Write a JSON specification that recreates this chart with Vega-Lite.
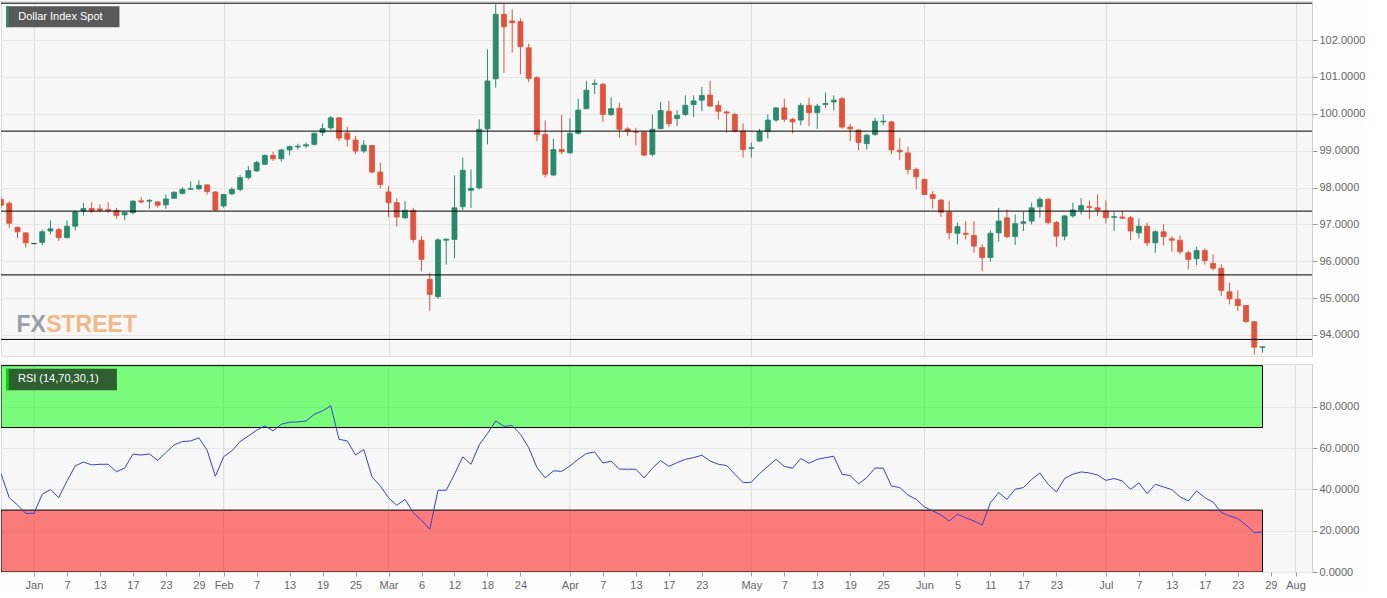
{
  "$schema": "https://vega.github.io/schema/vega-lite/v6.json",
  "background": "#fdfdfd",
  "padding": 0,
  "spacing": 6,
  "config": {
    "view": {"fill": "#f7f7f7", "stroke": "#dcdcdc"},
    "font": "Liberation Sans",
    "axis": {"labelFont": "Liberation Sans", "labelFontSize": 11, "labelColor": "#666666", "tickColor": "#999999", "domainColor": "#cfcfcf", "gridColor": "#e6e6e6", "zindex": 0}
  },
  "datasets": {
    "levels": [{"level": 103.0}, {"level": 99.53}, {"level": 97.36}, {"level": 95.63}, {"level": 93.88}],
    "zones": [{"zone": "overbought", "lo": 70, "hi": 100}, {"zone": "oversold", "lo": 0, "hi": 30}],
    "months": [{"d": "2020-01-01"}, {"d": "2020-02-03"}, {"d": "2020-03-02"}, {"d": "2020-04-01"}, {"d": "2020-05-01"}, {"d": "2020-06-01"}, {"d": "2020-07-01"}, {"d": "2020-08-03"}],
    "dxy": [
      {"d":"2019-12-26","o":97.68,"h":97.75,"l":97.45,"c":97.52,"rsi":47.7},
      {"d":"2019-12-27","o":97.57,"h":97.63,"l":96.91,"c":97.03,"rsi":36.0},
      {"d":"2019-12-30","o":96.92,"h":96.94,"l":96.62,"c":96.80,"rsi":32.5},
      {"d":"2019-12-31","o":96.77,"h":96.78,"l":96.37,"c":96.50,"rsi":28.4},
      {"d":"2020-01-01","o":96.48,"h":96.49,"l":96.47,"c":96.48,"rsi":28.4},
      {"d":"2020-01-02","o":96.51,"h":96.86,"l":96.43,"c":96.80,"rsi":37.7},
      {"d":"2020-01-03","o":96.82,"h":97.11,"l":96.73,"c":96.88,"rsi":39.9},
      {"d":"2020-01-06","o":96.86,"h":96.91,"l":96.55,"c":96.64,"rsi":36.0},
      {"d":"2020-01-07","o":96.64,"h":97.11,"l":96.62,"c":96.95,"rsi":44.1},
      {"d":"2020-01-08","o":96.95,"h":97.38,"l":96.84,"c":97.34,"rsi":51.4},
      {"d":"2020-01-09","o":97.36,"h":97.58,"l":97.24,"c":97.43,"rsi":53.3},
      {"d":"2020-01-10","o":97.43,"h":97.60,"l":97.31,"c":97.36,"rsi":51.9},
      {"d":"2020-01-13","o":97.42,"h":97.54,"l":97.33,"c":97.38,"rsi":52.2},
      {"d":"2020-01-14","o":97.40,"h":97.60,"l":97.31,"c":97.37,"rsi":52.2},
      {"d":"2020-01-15","o":97.38,"h":97.45,"l":97.15,"c":97.24,"rsi":48.6},
      {"d":"2020-01-16","o":97.26,"h":97.34,"l":97.11,"c":97.32,"rsi":50.4},
      {"d":"2020-01-17","o":97.32,"h":97.66,"l":97.27,"c":97.63,"rsi":57.1},
      {"d":"2020-01-20","o":97.64,"h":97.74,"l":97.57,"c":97.61,"rsi":56.7},
      {"d":"2020-01-21","o":97.63,"h":97.69,"l":97.43,"c":97.65,"rsi":57.2},
      {"d":"2020-01-22","o":97.61,"h":97.63,"l":97.45,"c":97.52,"rsi":54.1},
      {"d":"2020-01-23","o":97.53,"h":97.81,"l":97.42,"c":97.69,"rsi":57.9},
      {"d":"2020-01-24","o":97.71,"h":97.90,"l":97.69,"c":97.87,"rsi":61.6},
      {"d":"2020-01-27","o":97.84,"h":98.01,"l":97.81,"c":97.95,"rsi":63.2},
      {"d":"2020-01-28","o":97.95,"h":98.17,"l":97.93,"c":97.97,"rsi":63.5},
      {"d":"2020-01-29","o":97.97,"h":98.20,"l":97.93,"c":98.06,"rsi":65.0},
      {"d":"2020-01-30","o":98.07,"h":98.09,"l":97.81,"c":97.89,"rsi":59.0},
      {"d":"2020-01-31","o":97.88,"h":97.90,"l":97.37,"c":97.39,"rsi":46.4},
      {"d":"2020-02-03","o":97.50,"h":97.83,"l":97.45,"c":97.81,"rsi":55.8},
      {"d":"2020-02-04","o":97.83,"h":98.01,"l":97.79,"c":97.95,"rsi":58.7},
      {"d":"2020-02-05","o":97.95,"h":98.34,"l":97.90,"c":98.27,"rsi":63.2},
      {"d":"2020-02-06","o":98.27,"h":98.58,"l":98.22,"c":98.46,"rsi":65.9},
      {"d":"2020-02-07","o":98.45,"h":98.72,"l":98.43,"c":98.68,"rsi":68.7},
      {"d":"2020-02-10","o":98.63,"h":98.90,"l":98.61,"c":98.87,"rsi":70.8},
      {"d":"2020-02-11","o":98.87,"h":98.97,"l":98.72,"c":98.78,"rsi":68.4},
      {"d":"2020-02-12","o":98.78,"h":99.05,"l":98.70,"c":99.02,"rsi":71.6},
      {"d":"2020-02-13","o":99.02,"h":99.14,"l":98.88,"c":99.11,"rsi":72.6},
      {"d":"2020-02-14","o":99.10,"h":99.19,"l":99.03,"c":99.12,"rsi":72.7},
      {"d":"2020-02-17","o":99.13,"h":99.22,"l":99.07,"c":99.16,"rsi":73.2},
      {"d":"2020-02-18","o":99.17,"h":99.49,"l":99.14,"c":99.47,"rsi":76.4},
      {"d":"2020-02-19","o":99.49,"h":99.74,"l":99.40,"c":99.60,"rsi":78.1},
      {"d":"2020-02-20","o":99.62,"h":99.94,"l":99.56,"c":99.89,"rsi":80.5},
      {"d":"2020-02-21","o":99.89,"h":99.91,"l":99.26,"c":99.34,"rsi":64.3},
      {"d":"2020-02-24","o":99.48,"h":99.65,"l":99.11,"c":99.31,"rsi":63.5},
      {"d":"2020-02-25","o":99.29,"h":99.40,"l":98.90,"c":98.99,"rsi":56.7},
      {"d":"2020-02-26","o":98.99,"h":99.28,"l":98.93,"c":99.15,"rsi":59.3},
      {"d":"2020-02-27","o":99.14,"h":99.15,"l":98.38,"c":98.42,"rsi":46.1},
      {"d":"2020-02-28","o":98.42,"h":98.67,"l":97.98,"c":98.08,"rsi":41.7},
      {"d":"2020-03-02","o":97.88,"h":98.04,"l":97.20,"c":97.59,"rsi":36.0},
      {"d":"2020-03-03","o":97.59,"h":97.71,"l":96.94,"c":97.20,"rsi":32.3},
      {"d":"2020-03-04","o":97.18,"h":97.63,"l":97.14,"c":97.38,"rsi":35.2},
      {"d":"2020-03-05","o":97.38,"h":97.45,"l":96.50,"c":96.59,"rsi":28.8},
      {"d":"2020-03-06","o":96.57,"h":96.68,"l":95.73,"c":96.05,"rsi":25.1},
      {"d":"2020-03-09","o":95.51,"h":95.69,"l":94.65,"c":95.10,"rsi":20.7},
      {"d":"2020-03-10","o":95.04,"h":96.62,"l":94.98,"c":96.58,"rsi":39.6},
      {"d":"2020-03-11","o":96.57,"h":96.62,"l":95.91,"c":96.60,"rsi":39.6},
      {"d":"2020-03-12","o":96.59,"h":98.33,"l":96.08,"c":97.45,"rsi":47.4},
      {"d":"2020-03-13","o":97.48,"h":98.81,"l":97.38,"c":98.47,"rsi":55.8},
      {"d":"2020-03-16","o":97.92,"h":98.49,"l":97.45,"c":97.98,"rsi":52.2},
      {"d":"2020-03-17","o":97.99,"h":99.85,"l":97.95,"c":99.58,"rsi":61.6},
      {"d":"2020-03-18","o":99.59,"h":101.75,"l":99.17,"c":100.89,"rsi":67.1},
      {"d":"2020-03-19","o":100.95,"h":102.97,"l":100.71,"c":102.70,"rsi":73.2},
      {"d":"2020-03-20","o":102.70,"h":102.99,"l":101.11,"c":102.36,"rsi":70.6},
      {"d":"2020-03-23","o":102.52,"h":102.83,"l":101.66,"c":102.47,"rsi":71.0},
      {"d":"2020-03-24","o":102.50,"h":102.59,"l":101.07,"c":101.82,"rsi":66.7},
      {"d":"2020-03-25","o":101.79,"h":101.90,"l":100.86,"c":100.96,"rsi":60.3},
      {"d":"2020-03-26","o":100.98,"h":101.02,"l":99.26,"c":99.44,"rsi":50.6},
      {"d":"2020-03-27","o":99.44,"h":99.82,"l":98.27,"c":98.36,"rsi":45.6},
      {"d":"2020-03-30","o":98.34,"h":99.32,"l":98.31,"c":99.03,"rsi":49.0},
      {"d":"2020-03-31","o":99.03,"h":99.97,"l":98.90,"c":98.97,"rsi":48.8},
      {"d":"2020-04-01","o":98.94,"h":99.88,"l":98.92,"c":99.47,"rsi":51.4},
      {"d":"2020-04-02","o":99.47,"h":100.41,"l":99.44,"c":100.10,"rsi":54.6},
      {"d":"2020-04-03","o":100.14,"h":100.89,"l":100.12,"c":100.64,"rsi":57.4},
      {"d":"2020-04-06","o":100.80,"h":100.93,"l":100.53,"c":100.82,"rsi":58.2},
      {"d":"2020-04-07","o":100.80,"h":100.84,"l":99.78,"c":99.98,"rsi":52.8},
      {"d":"2020-04-08","o":99.98,"h":100.45,"l":99.94,"c":100.14,"rsi":53.7},
      {"d":"2020-04-09","o":100.15,"h":100.30,"l":99.35,"c":99.58,"rsi":49.9},
      {"d":"2020-04-10","o":99.59,"h":99.64,"l":99.40,"c":99.53,"rsi":49.8},
      {"d":"2020-04-13","o":99.51,"h":99.62,"l":99.15,"c":99.50,"rsi":49.8},
      {"d":"2020-04-14","o":99.50,"h":99.53,"l":98.85,"c":98.88,"rsi":45.6},
      {"d":"2020-04-15","o":98.90,"h":99.98,"l":98.85,"c":99.58,"rsi":50.3},
      {"d":"2020-04-16","o":99.60,"h":100.32,"l":99.58,"c":100.09,"rsi":54.0},
      {"d":"2020-04-17","o":100.07,"h":100.35,"l":99.64,"c":99.73,"rsi":51.2},
      {"d":"2020-04-20","o":99.87,"h":100.10,"l":99.67,"c":99.96,"rsi":53.0},
      {"d":"2020-04-21","o":99.98,"h":100.50,"l":99.94,"c":100.23,"rsi":54.6},
      {"d":"2020-04-22","o":100.25,"h":100.50,"l":99.91,"c":100.35,"rsi":55.4},
      {"d":"2020-04-23","o":100.37,"h":100.73,"l":100.07,"c":100.50,"rsi":56.6},
      {"d":"2020-04-24","o":100.51,"h":100.89,"l":100.18,"c":100.21,"rsi":53.8},
      {"d":"2020-04-27","o":100.23,"h":100.35,"l":99.85,"c":100.07,"rsi":52.2},
      {"d":"2020-04-28","o":100.05,"h":100.09,"l":99.49,"c":100.02,"rsi":51.6},
      {"d":"2020-04-29","o":99.98,"h":100.03,"l":99.49,"c":99.53,"rsi":47.4},
      {"d":"2020-04-30","o":99.53,"h":99.74,"l":98.81,"c":99.03,"rsi":43.3},
      {"d":"2020-05-01","o":99.06,"h":99.22,"l":98.81,"c":99.08,"rsi":43.5},
      {"d":"2020-05-04","o":99.26,"h":99.59,"l":99.24,"c":99.51,"rsi":47.7},
      {"d":"2020-05-05","o":99.53,"h":99.98,"l":99.33,"c":99.83,"rsi":51.2},
      {"d":"2020-05-06","o":99.83,"h":100.18,"l":99.78,"c":100.16,"rsi":54.6},
      {"d":"2020-05-07","o":100.16,"h":100.41,"l":99.78,"c":99.85,"rsi":51.2},
      {"d":"2020-05-08","o":99.85,"h":99.89,"l":99.47,"c":99.78,"rsi":50.3},
      {"d":"2020-05-11","o":99.83,"h":100.30,"l":99.69,"c":100.23,"rsi":55.0},
      {"d":"2020-05-12","o":100.23,"h":100.44,"l":99.67,"c":100.03,"rsi":52.7},
      {"d":"2020-05-13","o":100.03,"h":100.27,"l":99.59,"c":100.21,"rsi":54.6},
      {"d":"2020-05-14","o":100.25,"h":100.57,"l":100.16,"c":100.28,"rsi":55.4},
      {"d":"2020-05-15","o":100.32,"h":100.50,"l":100.09,"c":100.37,"rsi":56.1},
      {"d":"2020-05-18","o":100.41,"h":100.45,"l":99.59,"c":99.64,"rsi":47.4},
      {"d":"2020-05-19","o":99.64,"h":99.73,"l":99.26,"c":99.59,"rsi":46.7},
      {"d":"2020-05-20","o":99.56,"h":99.58,"l":99.01,"c":99.22,"rsi":42.7},
      {"d":"2020-05-21","o":99.19,"h":99.46,"l":99.03,"c":99.42,"rsi":45.7},
      {"d":"2020-05-22","o":99.44,"h":99.89,"l":99.40,"c":99.80,"rsi":50.4},
      {"d":"2020-05-25","o":99.78,"h":99.98,"l":99.69,"c":99.80,"rsi":50.3},
      {"d":"2020-05-26","o":99.78,"h":99.80,"l":98.90,"c":99.02,"rsi":41.7},
      {"d":"2020-05-27","o":99.01,"h":99.35,"l":98.74,"c":98.97,"rsi":40.9},
      {"d":"2020-05-28","o":98.94,"h":99.11,"l":98.36,"c":98.49,"rsi":37.3},
      {"d":"2020-05-29","o":98.49,"h":98.54,"l":97.95,"c":98.29,"rsi":35.2},
      {"d":"2020-06-01","o":98.22,"h":98.24,"l":97.80,"c":97.81,"rsi":31.5},
      {"d":"2020-06-02","o":97.81,"h":97.90,"l":97.43,"c":97.70,"rsi":29.6},
      {"d":"2020-06-03","o":97.66,"h":97.68,"l":97.20,"c":97.33,"rsi":27.6},
      {"d":"2020-06-04","o":97.33,"h":97.63,"l":96.59,"c":96.77,"rsi":24.7},
      {"d":"2020-06-05","o":96.76,"h":97.05,"l":96.46,"c":96.94,"rsi":28.0},
      {"d":"2020-06-08","o":96.76,"h":97.09,"l":96.59,"c":96.73,"rsi":26.3},
      {"d":"2020-06-09","o":96.70,"h":97.09,"l":96.23,"c":96.41,"rsi":24.7},
      {"d":"2020-06-10","o":96.37,"h":96.46,"l":95.73,"c":96.10,"rsi":22.8},
      {"d":"2020-06-11","o":96.10,"h":96.84,"l":95.99,"c":96.76,"rsi":33.6},
      {"d":"2020-06-12","o":96.77,"h":97.45,"l":96.53,"c":97.09,"rsi":38.5},
      {"d":"2020-06-15","o":97.18,"h":97.41,"l":96.62,"c":96.67,"rsi":35.2},
      {"d":"2020-06-16","o":96.67,"h":97.27,"l":96.44,"c":97.02,"rsi":40.1},
      {"d":"2020-06-17","o":97.03,"h":97.34,"l":96.82,"c":97.07,"rsi":40.9},
      {"d":"2020-06-18","o":97.09,"h":97.59,"l":97.00,"c":97.45,"rsi":44.9},
      {"d":"2020-06-19","o":97.48,"h":97.74,"l":97.18,"c":97.68,"rsi":48.0},
      {"d":"2020-06-22","o":97.68,"h":97.72,"l":97.00,"c":97.05,"rsi":42.5},
      {"d":"2020-06-23","o":97.05,"h":97.09,"l":96.39,"c":96.68,"rsi":38.8},
      {"d":"2020-06-24","o":96.68,"h":97.25,"l":96.57,"c":97.23,"rsi":45.3},
      {"d":"2020-06-25","o":97.23,"h":97.59,"l":97.18,"c":97.39,"rsi":47.4},
      {"d":"2020-06-26","o":97.39,"h":97.71,"l":97.27,"c":97.51,"rsi":48.5},
      {"d":"2020-06-29","o":97.48,"h":97.65,"l":97.14,"c":97.46,"rsi":48.0},
      {"d":"2020-06-30","o":97.45,"h":97.81,"l":97.23,"c":97.39,"rsi":47.0},
      {"d":"2020-07-01","o":97.36,"h":97.65,"l":97.03,"c":97.18,"rsi":44.4},
      {"d":"2020-07-02","o":97.19,"h":97.34,"l":96.82,"c":97.21,"rsi":45.3},
      {"d":"2020-07-03","o":97.20,"h":97.36,"l":97.14,"c":97.17,"rsi":44.1},
      {"d":"2020-07-06","o":97.18,"h":97.23,"l":96.57,"c":96.82,"rsi":40.1},
      {"d":"2020-07-07","o":96.77,"h":97.16,"l":96.62,"c":96.95,"rsi":43.2},
      {"d":"2020-07-08","o":96.95,"h":97.05,"l":96.41,"c":96.50,"rsi":38.0},
      {"d":"2020-07-09","o":96.50,"h":96.84,"l":96.23,"c":96.80,"rsi":42.5},
      {"d":"2020-07-10","o":96.80,"h":97.00,"l":96.43,"c":96.67,"rsi":41.2},
      {"d":"2020-07-13","o":96.61,"h":96.68,"l":96.26,"c":96.57,"rsi":39.9},
      {"d":"2020-07-14","o":96.57,"h":96.70,"l":96.19,"c":96.26,"rsi":36.4},
      {"d":"2020-07-15","o":96.23,"h":96.28,"l":95.78,"c":96.05,"rsi":34.4},
      {"d":"2020-07-16","o":96.07,"h":96.39,"l":95.90,"c":96.29,"rsi":39.3},
      {"d":"2020-07-17","o":96.29,"h":96.35,"l":95.91,"c":96.02,"rsi":36.0},
      {"d":"2020-07-20","o":95.94,"h":96.19,"l":95.75,"c":95.81,"rsi":33.9},
      {"d":"2020-07-21","o":95.81,"h":95.92,"l":95.06,"c":95.21,"rsi":28.8},
      {"d":"2020-07-22","o":95.17,"h":95.42,"l":94.83,"c":94.98,"rsi":27.2},
      {"d":"2020-07-23","o":94.97,"h":95.21,"l":94.65,"c":94.80,"rsi":25.9},
      {"d":"2020-07-24","o":94.80,"h":94.82,"l":94.33,"c":94.36,"rsi":22.8},
      {"d":"2020-07-27","o":94.36,"h":94.38,"l":93.47,"c":93.67,"rsi":19.1},
      {"d":"2020-07-28","o":93.66,"h":93.69,"l":93.52,"c":93.68,"rsi":19.4}
    ]
  },
  "vconcat": [
    {
      "width": 1311,
      "height": 355,
      "layer": [
        {
          "data": {"name": "dxy"},
          "mark": {"type": "rule", "strokeWidth": 1, "clip": true},
          "encoding": {
            "x": {
              "field": "d", "type": "ordinal",
              "scale": {"type": "point", "padding": 0, "domain": ["2019-12-26","2019-12-27","2019-12-30","2019-12-31","2020-01-01","2020-01-02","2020-01-03","2020-01-06","2020-01-07","2020-01-08","2020-01-09","2020-01-10","2020-01-13","2020-01-14","2020-01-15","2020-01-16","2020-01-17","2020-01-20","2020-01-21","2020-01-22","2020-01-23","2020-01-24","2020-01-27","2020-01-28","2020-01-29","2020-01-30","2020-01-31","2020-02-03","2020-02-04","2020-02-05","2020-02-06","2020-02-07","2020-02-10","2020-02-11","2020-02-12","2020-02-13","2020-02-14","2020-02-17","2020-02-18","2020-02-19","2020-02-20","2020-02-21","2020-02-24","2020-02-25","2020-02-26","2020-02-27","2020-02-28","2020-03-02","2020-03-03","2020-03-04","2020-03-05","2020-03-06","2020-03-09","2020-03-10","2020-03-11","2020-03-12","2020-03-13","2020-03-16","2020-03-17","2020-03-18","2020-03-19","2020-03-20","2020-03-23","2020-03-24","2020-03-25","2020-03-26","2020-03-27","2020-03-30","2020-03-31","2020-04-01","2020-04-02","2020-04-03","2020-04-06","2020-04-07","2020-04-08","2020-04-09","2020-04-10","2020-04-13","2020-04-14","2020-04-15","2020-04-16","2020-04-17","2020-04-20","2020-04-21","2020-04-22","2020-04-23","2020-04-24","2020-04-27","2020-04-28","2020-04-29","2020-04-30","2020-05-01","2020-05-04","2020-05-05","2020-05-06","2020-05-07","2020-05-08","2020-05-11","2020-05-12","2020-05-13","2020-05-14","2020-05-15","2020-05-18","2020-05-19","2020-05-20","2020-05-21","2020-05-22","2020-05-25","2020-05-26","2020-05-27","2020-05-28","2020-05-29","2020-06-01","2020-06-02","2020-06-03","2020-06-04","2020-06-05","2020-06-08","2020-06-09","2020-06-10","2020-06-11","2020-06-12","2020-06-15","2020-06-16","2020-06-17","2020-06-18","2020-06-19","2020-06-22","2020-06-23","2020-06-24","2020-06-25","2020-06-26","2020-06-29","2020-06-30","2020-07-01","2020-07-02","2020-07-03","2020-07-06","2020-07-07","2020-07-08","2020-07-09","2020-07-10","2020-07-13","2020-07-14","2020-07-15","2020-07-16","2020-07-17","2020-07-20","2020-07-21","2020-07-22","2020-07-23","2020-07-24","2020-07-27","2020-07-28","2020-07-29","2020-07-30","2020-07-31","2020-08-03","2020-08-04","2020-08-05"]},
              "axis": {"values": ["2020-01-01","2020-02-03","2020-03-02","2020-04-01","2020-05-01","2020-06-01","2020-07-01","2020-08-03"], "labels": false, "ticks": false, "domain": false, "grid": true, "gridColor": "#dddddd", "title": null}
            },
            "y": {"field": "l", "type": "quantitative"},
            "y2": {"field": "h"},
            "color": {"condition": [{"test": "datum.c > datum.o", "value": "#2a8a6e"}, {"test": "datum.c == datum.o", "value": "#333333"}], "value": "#e0533c"}
          }
        },
        {
          "data": {"name": "dxy"},
          "mark": {"type": "bar", "width": 5, "strokeWidth": 0.8, "clip": true},
          "encoding": {
            "x": {"field": "d", "type": "ordinal"},
            "y": {"field": "o", "type": "quantitative"},
            "y2": {"field": "c"},
            "color": {"condition": [{"test": "datum.c > datum.o", "value": "#2a8a6e"}, {"test": "datum.c == datum.o", "value": "#333333"}], "value": "#e0533c"},
            "stroke": {"condition": [{"test": "datum.c > datum.o", "value": "#2a8a6e"}, {"test": "datum.c == datum.o", "value": "#333333"}], "value": "#e0533c"}
          }
        },
        {
          "data": {"name": "levels"},
          "mark": {"type": "rule", "color": "#000000", "strokeWidth": 1},
          "encoding": {
            "y": {
              "field": "level", "type": "quantitative",
              "scale": {"domain": [93.43, 103.06], "nice": false, "zero": false},
              "axis": {"orient": "right", "values": [94, 95, 96, 97, 98, 99, 100, 101, 102], "format": ".4f", "tickSize": 5, "labelPadding": 2, "grid": true, "title": null}
            }
          }
        },
        {
          "data": {"values": [{}]},
          "mark": {"type": "rect", "fill": "#595959", "xOffset": -3, "x2Offset": 3},
          "encoding": {
            "x": {"datum": "2019-12-27", "type": "ordinal"},
            "x2": {"datum": "2020-01-15"},
            "y": {"datum": 102.92, "type": "quantitative"},
            "y2": {"datum": 102.35}
          }
        },
        {
          "data": {"values": [{}]},
          "mark": {"type": "rect", "fill": "#2a8a6e", "xOffset": -3, "x2Offset": -0.5},
          "encoding": {
            "x": {"datum": "2019-12-27", "type": "ordinal"},
            "x2": {"datum": "2019-12-27"},
            "y": {"datum": 102.92, "type": "quantitative"},
            "y2": {"datum": 102.35}
          }
        },
        {
          "data": {"values": [{}]},
          "mark": {"type": "text", "text": "Dollar Index Spot", "align": "left", "baseline": "middle", "dx": 9, "color": "#ffffff", "fontSize": 11},
          "encoding": {
            "x": {"datum": "2019-12-27", "type": "ordinal"},
            "y": {"datum": 102.62, "type": "quantitative"}
          }
        },
        {
          "data": {"values": [{}]},
          "mark": {"type": "text", "text": "FX", "align": "left", "baseline": "alphabetic", "dx": -1, "font": "Liberation Sans", "fontWeight": "bold", "fontSize": 23, "color": "#9a9ea6"},
          "encoding": {
            "x": {"datum": "2019-12-30", "type": "ordinal"},
            "y": {"datum": 94.08, "type": "quantitative"}
          }
        },
        {
          "data": {"values": [{}]},
          "mark": {"type": "text", "text": "STREET", "align": "left", "baseline": "alphabetic", "dx": 4, "font": "Liberation Sans", "fontWeight": "bold", "fontSize": 23, "color": "#f3b888"},
          "encoding": {
            "x": {"datum": "2020-01-02", "type": "ordinal"},
            "y": {"datum": 94.08, "type": "quantitative"}
          }
        }
      ]
    },
    {
      "width": 1311,
      "height": 208,
      "layer": [
        {
          "data": {"name": "months"},
          "mark": {"type": "rule", "color": "#dddddd", "strokeWidth": 1},
          "encoding": {
            "x": {
              "field": "d", "type": "ordinal",
              "scale": {"type": "point", "padding": 0, "domain": ["2019-12-26","2019-12-27","2019-12-30","2019-12-31","2020-01-01","2020-01-02","2020-01-03","2020-01-06","2020-01-07","2020-01-08","2020-01-09","2020-01-10","2020-01-13","2020-01-14","2020-01-15","2020-01-16","2020-01-17","2020-01-20","2020-01-21","2020-01-22","2020-01-23","2020-01-24","2020-01-27","2020-01-28","2020-01-29","2020-01-30","2020-01-31","2020-02-03","2020-02-04","2020-02-05","2020-02-06","2020-02-07","2020-02-10","2020-02-11","2020-02-12","2020-02-13","2020-02-14","2020-02-17","2020-02-18","2020-02-19","2020-02-20","2020-02-21","2020-02-24","2020-02-25","2020-02-26","2020-02-27","2020-02-28","2020-03-02","2020-03-03","2020-03-04","2020-03-05","2020-03-06","2020-03-09","2020-03-10","2020-03-11","2020-03-12","2020-03-13","2020-03-16","2020-03-17","2020-03-18","2020-03-19","2020-03-20","2020-03-23","2020-03-24","2020-03-25","2020-03-26","2020-03-27","2020-03-30","2020-03-31","2020-04-01","2020-04-02","2020-04-03","2020-04-06","2020-04-07","2020-04-08","2020-04-09","2020-04-10","2020-04-13","2020-04-14","2020-04-15","2020-04-16","2020-04-17","2020-04-20","2020-04-21","2020-04-22","2020-04-23","2020-04-24","2020-04-27","2020-04-28","2020-04-29","2020-04-30","2020-05-01","2020-05-04","2020-05-05","2020-05-06","2020-05-07","2020-05-08","2020-05-11","2020-05-12","2020-05-13","2020-05-14","2020-05-15","2020-05-18","2020-05-19","2020-05-20","2020-05-21","2020-05-22","2020-05-25","2020-05-26","2020-05-27","2020-05-28","2020-05-29","2020-06-01","2020-06-02","2020-06-03","2020-06-04","2020-06-05","2020-06-08","2020-06-09","2020-06-10","2020-06-11","2020-06-12","2020-06-15","2020-06-16","2020-06-17","2020-06-18","2020-06-19","2020-06-22","2020-06-23","2020-06-24","2020-06-25","2020-06-26","2020-06-29","2020-06-30","2020-07-01","2020-07-02","2020-07-03","2020-07-06","2020-07-07","2020-07-08","2020-07-09","2020-07-10","2020-07-13","2020-07-14","2020-07-15","2020-07-16","2020-07-17","2020-07-20","2020-07-21","2020-07-22","2020-07-23","2020-07-24","2020-07-27","2020-07-28","2020-07-29","2020-07-30","2020-07-31","2020-08-03","2020-08-04","2020-08-05"]},
              "axis": {
                "values": ["2020-01-01","2020-01-07","2020-01-13","2020-01-17","2020-01-23","2020-01-29","2020-02-03","2020-02-07","2020-02-13","2020-02-19","2020-02-25","2020-03-02","2020-03-06","2020-03-12","2020-03-18","2020-03-24","2020-04-01","2020-04-07","2020-04-13","2020-04-17","2020-04-23","2020-05-01","2020-05-07","2020-05-13","2020-05-19","2020-05-25","2020-06-01","2020-06-05","2020-06-11","2020-06-17","2020-06-23","2020-07-01","2020-07-07","2020-07-13","2020-07-17","2020-07-23","2020-07-29","2020-08-03"],
                "labelExpr": "indexof(['2020-01-01','2020-02-03','2020-03-02','2020-04-01','2020-05-01','2020-06-01','2020-07-01','2020-08-03'], datum.value) >= 0 ? ['Jan','Feb','Mar','Apr','May','Jun','Jul','Aug'][toNumber(substring(datum.value, 5, 7)) - 1] : '' + toNumber(substring(datum.value, 8, 10))",
                "labelAngle": 0, "labelPadding": 3, "tickSize": 4, "domain": false, "title": null, "labelOverlap": false, "grid": false
              }
            }
          }
        },
        {
          "data": {"name": "zones"},
          "mark": {"type": "rect", "fillOpacity": 0.5, "stroke": "#000000", "strokeWidth": 1, "clip": true},
          "encoding": {
            "x": {"datum": "2019-12-26", "type": "ordinal"},
            "x2": {"datum": "2020-07-28"},
            "y": {
              "field": "lo", "type": "quantitative",
              "scale": {"domain": [0, 100.8], "nice": false},
              "axis": {"orient": "right", "values": [0, 20, 40, 60, 80], "format": ".4f", "tickSize": 5, "labelPadding": 2, "grid": true, "title": null}
            },
            "y2": {"field": "hi"},
            "fill": {"field": "zone", "type": "nominal", "scale": {"domain": ["overbought", "oversold"], "range": ["#00ff00", "#ff0000"]}, "legend": null}
          }
        },
        {
          "data": {"name": "dxy"},
          "mark": {"type": "line", "color": "#3344cc", "strokeWidth": 1, "clip": true},
          "encoding": {
            "x": {"field": "d", "type": "ordinal"},
            "y": {"field": "rsi", "type": "quantitative"}
          }
        },
        {
          "data": {"values": [{}]},
          "mark": {"type": "rect", "fill": "#2f5f30", "xOffset": -3, "x2Offset": 0.5},
          "encoding": {
            "x": {"datum": "2019-12-27", "type": "ordinal"},
            "x2": {"datum": "2020-01-15"},
            "y": {"datum": 98.5, "type": "quantitative"},
            "y2": {"datum": 88.1}
          }
        },
        {
          "data": {"values": [{}]},
          "mark": {"type": "rect", "fill": "#00e000", "xOffset": -3, "x2Offset": -0.5},
          "encoding": {
            "x": {"datum": "2019-12-27", "type": "ordinal"},
            "x2": {"datum": "2019-12-27"},
            "y": {"datum": 98.5, "type": "quantitative"},
            "y2": {"datum": 88.1}
          }
        },
        {
          "data": {"values": [{}]},
          "mark": {"type": "text", "text": "RSI (14,70,30,1)", "align": "left", "baseline": "middle", "dx": 8.7, "color": "#ffffff", "fontSize": 11},
          "encoding": {
            "x": {"datum": "2019-12-27", "type": "ordinal"},
            "y": {"datum": 93.3, "type": "quantitative"}
          }
        }
      ]
    }
  ]
}
